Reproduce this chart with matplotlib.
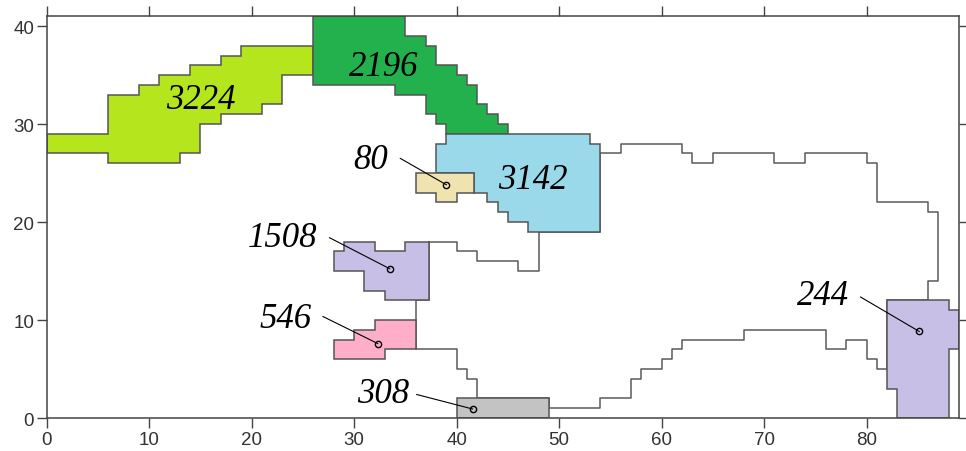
import matplotlib
matplotlib.use("Agg")
import matplotlib.pyplot as plt
from matplotlib.patches import Polygon

# zone outlines (grid units)
zone_3224 = [(0, 27), (0, 29), (6, 29), (6, 33), (9, 33), (9, 34), (11, 34), (11, 35),
             (14, 35), (14, 36), (17, 36), (17, 37), (19, 37), (19, 38), (26, 38), (26, 35),
             (23, 35), (23, 32), (21, 32), (21, 31), (17, 31), (17, 30), (15, 30), (15, 27),
             (13, 27), (13, 26), (6, 26), (6, 27)]
zone_2196 = [(26, 41), (35, 41), (35, 39), (37, 39), (37, 38), (38, 38), (38, 36), (40, 36),
             (40, 35), (41, 35), (41, 34), (42, 34), (42, 32), (43, 32), (43, 31), (44, 31),
             (44, 30), (45, 30), (45, 29), (39, 29), (39, 30), (38, 30), (38, 31), (37, 31),
             (37, 33), (34, 33), (34, 34), (26, 34)]
zone_3142 = [(39, 29), (53, 29), (53, 28), (54, 28), (54, 19), (47, 19), (47, 20), (45, 20),
             (45, 21), (44, 21), (44, 22), (43, 22), (43, 23), (41.7, 23), (41.7, 25),
             (38, 25), (38, 28), (39, 28)]
zone_80 = [(36, 25), (41.7, 25), (41.7, 23), (40, 23), (40, 22), (38, 22), (38, 23), (36, 23)]
zone_1508 = [(29, 18), (32, 18), (32, 17), (35, 17), (35, 18), (37.3, 18), (37.3, 12), (33, 12),
             (33, 13), (31, 13), (31, 15), (28, 15), (28, 17), (29, 17)]
zone_546 = [(32, 10), (36, 10), (36, 7), (33, 7), (33, 6), (28, 6), (28, 8), (30, 8), (30, 9),
            (32, 9)]
zone_308 = [(40, 0), (40, 2), (49, 2), (49, 0)]
zone_244 = [(82, 12), (88, 12), (88, 11), (89, 11), (89, 7), (88, 7), (88, 0), (83, 0), (83, 3),
            (82, 3)]

boundary = [(37.3, 18), (40, 18), (40, 17), (42, 17), (42, 16), (46, 16), (46, 15), (48, 15),
            (48, 19), (54, 19), (54, 27), (56, 27), (56, 28), (62, 28), (62, 27), (63, 27),
            (63, 26), (65, 26), (65, 27), (71, 27), (71, 26), (74, 26), (74, 27), (80, 27),
            (80, 26), (81, 26), (81, 22), (86, 22), (86, 21), (87, 21), (87, 14), (86, 14),
            (86, 12), (82, 12), (82, 5), (81, 5), (81, 6), (80, 6), (80, 8), (78, 8), (78, 7),
            (76, 7), (76, 9), (68, 9), (68, 8), (62, 8), (62, 7), (61, 7), (61, 6), (60, 6),
            (60, 5), (58, 5), (58, 4), (57, 4), (57, 2), (54, 2), (54, 1), (49, 1), (49, 2),
            (42, 2), (42, 4), (41, 4), (41, 5), (40, 5), (40, 7), (36, 7), (36, 12), (37.3, 12)]

zones = [zone_3224, zone_2196, zone_3142, zone_80, zone_1508, zone_546, zone_308, zone_244]
colors = ['#b5e61d', '#22b14c', '#99d9ea', '#efe4b0', '#c8bfe7', '#ffaec9', '#c3c3c3', '#c8bfe7']

# labels: text, text anchor (x, baseline y), leader start, leader end (None = no leader)
labels = ['3224', '2196', '3142', '80', '1508', '546', '308', '244']
label_xy = [(15.0, 31.6), (32.85, 35.0), (47.4, 23.5), (31.6, 25.5), (23.0, 17.55),
            (23.3, 9.25), (32.8, 1.6), (75.7, 11.6)]
leader_from = [None, None, None, (34.5, 26.5), (27.6, 18.4), (26.95, 10.36), (36.1, 2.4),
               (79.4, 12.35)]
leader_to = [None, None, None, (39.0, 23.8), (33.46, 15.24), (32.3, 7.6), (41.55, 0.92),
             (85.13, 8.83)]

fig = plt.figure(figsize=(9.66, 4.52), dpi=100)
ax = fig.add_axes([0.0483, 0.0730, 0.9444, 0.8887])

bx, by = zip(*boundary)
ax.plot(list(bx) + [bx[0]], list(by) + [by[0]], color='#5a5a5a', lw=1.1, zorder=1)

for pts, c in zip(zones, colors):
    ax.add_patch(Polygon(pts, closed=True, facecolor=c, edgecolor='#555555',
                         lw=1.1, zorder=2))

for txt, (tx, ty), p0, p1 in zip(labels, label_xy, leader_from, leader_to):
    ax.text(tx, ty, txt, ha='center', va='baseline', fontsize=25, style='italic',
            family='Liberation Serif', color='black', zorder=4)
    if p0 is not None:
        ax.plot([p0[0], p1[0]], [p0[1], p1[1]], color='black', lw=0.8, zorder=3)
        ax.plot(p1[0], p1[1], 'o', ms=4.5, mfc='none', mec='black', mew=1.0, zorder=3)

ax.set_xlim(0, 89)
ax.set_ylim(0, 41)
ax.set_xticks(range(0, 90, 10))
ax.set_yticks(range(0, 41, 10))
ax.tick_params(direction='out', length=7, width=1.0, color='#444444', labelsize=13.5,
               labelcolor='#333333', pad=2, top=True, right=True)
for lab in ax.get_xticklabels() + ax.get_yticklabels():
    lab.set_family('Liberation Sans')
for s in ax.spines.values():
    s.set_color('#444444')
    s.set_linewidth(1.1)

fig.savefig('out.png', dpi=100)
